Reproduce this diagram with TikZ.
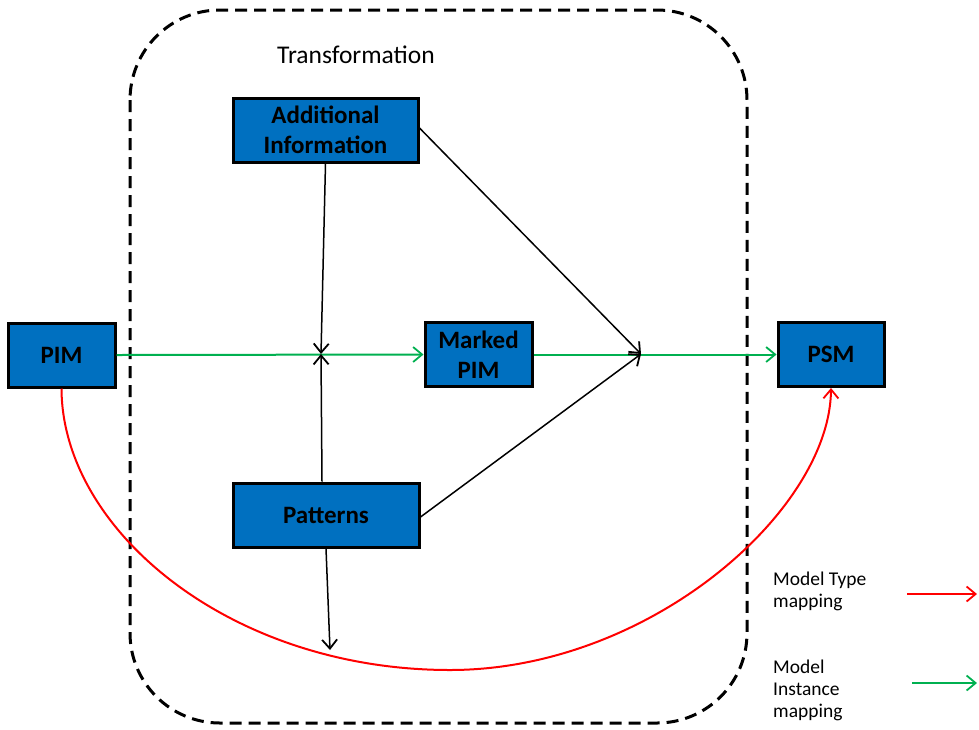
\documentclass[tikz,border=0pt]{standalone}
\usepackage{fontspec}
\setmainfont{Carlito}
\usetikzlibrary{arrows.meta}
\definecolor{boxblue}{HTML}{0070C0}
\definecolor{mapgreen}{HTML}{00B050}
\definecolor{mapred}{HTML}{FF0000}
\tikzset{
  model/.style={draw=black, line width=3pt, fill=boxblue, inner sep=0pt,
    align=center, font=\fontsize{25}{30}\selectfont\bfseries},
  barb/.style={-{Straight Barb[length=9pt,width=15pt,line width=1.8pt]}},
  flow/.style={black, line width=1.5pt, barb},
  instance/.style={mapgreen, line width=2pt, barb},
  typemap/.style={mapred, line width=2pt, barb},
  frame/.style={black, line width=3pt, dash pattern=on 12pt off 7pt, rounded corners=90pt},
  legend/.style={anchor=north west, align=left, inner sep=0pt,
    font=\fontsize{19.5}{22}\selectfont}
}
\begin{document}
\begin{tikzpicture}[x=1pt,y=-1pt]
\useasboundingbox (0,0) rectangle (979,729);

% transformation boundary
\draw[frame] (130,10) rectangle (747,723);
\node[anchor=base west, inner sep=0pt, font=\fontsize{25.5}{30}\selectfont] (title) at (277,63) {Transformation};

% models
\node[model, minimum width=185pt, minimum height=64pt] (addinfo) at (325.5,130) {Additional\\Information};
\node[model, minimum width=107pt, minimum height=64pt] (pim) at (61.5,355) {PIM};
\node[model, minimum width=107pt, minimum height=64pt] (marked) at (478.5,354.5) {Marked\\PIM};
\node[model, minimum width=186pt, minimum height=64pt] (patterns) at (326,515) {Patterns};
\node[model, minimum width=106pt, minimum height=64pt] (psm) at (831,354.5) {PSM};

% junction points
\coordinate (mark) at (321,354);
\coordinate (merge) at (641,354);
\coordinate (sink) at (330,650);

% instance mapping (green)
\draw[instance] (pim.east) -- (marked.west);
\draw[instance] (marked.east) -- (psm.west |- marked.east);

% inputs to the transformation
\draw[flow] (addinfo.south) -- (mark);
\draw[flow] ([xshift=-4pt]patterns.north) -- (mark);
\draw[flow] ([yshift=2pt]addinfo.east) -- (merge);
\draw[flow] ([yshift=-2pt]patterns.east) -- (merge);
\draw[flow] (patterns.south) -- (sink);

% type mapping (red)
\coordinate (low) at (450,670);
\draw[mapred, line width=2pt] (pim.south) .. controls (62,530) and (230,670) .. (low);
\draw[typemap] (low) .. controls (650,670) and (830,510) .. (psm.south);

% legend
\node[legend] (ltype) at (773,572) {Model Type\\mapping};
\coordinate (ltypeA) at (907,594);
\coordinate (ltypeB) at (977,594);
\draw[typemap] (ltypeA) -- (ltypeB);
\node[legend] (linst) at (773,660) {Model\\Instance\\mapping};
\coordinate (linstA) at (912,683);
\coordinate (linstB) at (977,683);
\draw[instance] (linstA) -- (linstB);
\end{tikzpicture}
\end{document}
